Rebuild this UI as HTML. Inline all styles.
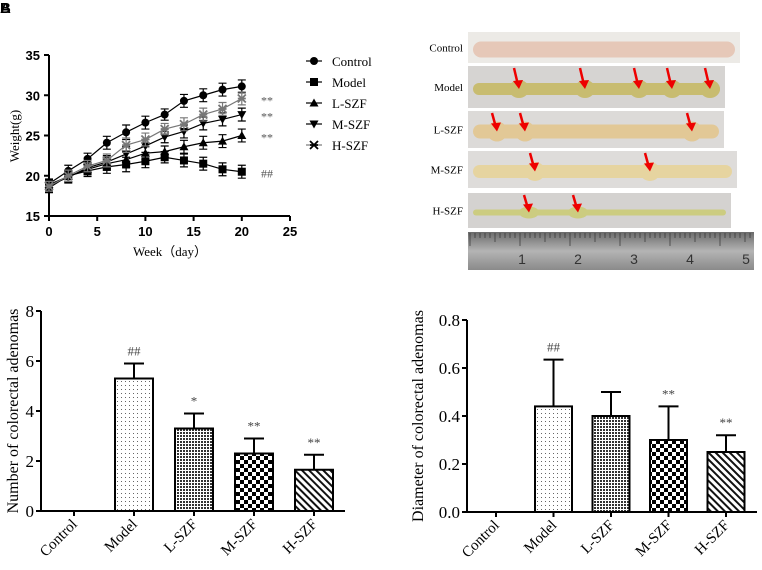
<!DOCTYPE html>
<html><head><meta charset="utf-8"><style>
body{margin:0;background:#fff;width:762px;height:570px;overflow:hidden;position:relative;font-family:"Liberation Serif",serif}
svg{position:absolute;left:0;top:0}
</style></head><body>
<svg width="762" height="570">
<defs>
<pattern id="pDots" width="4" height="4" patternUnits="userSpaceOnUse"><rect width="4" height="4" fill="#fff"/><rect x="1" y="1" width="1" height="1" fill="#666"/></pattern>
<pattern id="pFine" width="3" height="3" patternUnits="userSpaceOnUse"><rect width="3" height="3" fill="#fff"/><rect width="2" height="2" fill="#333"/></pattern>
<pattern id="pCheck" width="8" height="8" patternUnits="userSpaceOnUse"><rect width="8" height="8" fill="#fff"/><rect width="4" height="4" fill="#000"/><rect x="4" y="4" width="4" height="4" fill="#000"/></pattern>
<pattern id="pDiag" width="5" height="5" patternUnits="userSpaceOnUse" patternTransform="rotate(-45)"><rect width="5" height="5" fill="#fff"/><rect width="2" height="5" fill="#111"/></pattern>
<linearGradient id="ruler" x1="0" y1="0" x2="0" y2="1"><stop offset="0" stop-color="#6a6a6a"/><stop offset="0.5" stop-color="#b4b4b4"/><stop offset="1" stop-color="#8a8a8a"/></linearGradient>
</defs>
<text x="0" y="13" font-family="Liberation Sans" font-weight="bold" font-size="15">A</text>
<text x="0" y="13" font-family="Liberation Sans" font-weight="bold" font-size="15">B</text>
<g id="lineChart"></g>
<g id="photo"></g>
<g id="bar1"></g>
<g id="bar2"></g>
</svg>
<script>
const NS="http://www.w3.org/2000/svg";
function mk(p,t,a,txt){const e=document.createElementNS(NS,t);for(const k in a)e.setAttribute(k,a[k]);if(txt!==undefined)e.textContent=txt;p.appendChild(e);return e;}

// ===== Line chart data =====
const weeks=[0,2,4,6,8,10,12,14,16,18,20];
const seriesNames=["Control","Model","L-SZF","M-SZF","H-SZF"];
const controlVals=[19,20.6,22.1,24.1,25.4,26.6,27.6,29.3,30,30.7,31.1];
const modelVals=[18.5,20,20.6,21.1,21.4,21.8,22.3,21.9,21.5,20.8,20.5];
const lowVals=[18.9,19.9,20.8,21.5,22.0,22.8,23.0,23.6,24.1,24.3,25.0];
const midVals=[18.8,19.8,21.0,21.7,22.7,23.7,24.8,25.5,26.5,27.0,27.6];
const highVals=[18.7,20.0,21.2,21.9,23.8,24.5,25.8,26.4,27.6,28.3,29.6];
const lineErr=[0.6,0.7,0.7,0.8,0.9,0.8,0.7,0.8,0.8,0.8,0.8];
const xTicksA=[0,5,10,15,20,25];
const yTicksA=[15,20,25,30,35];
const sigA=[["**",29.6],["**",27.6],["**",25],["##",20.5]];

const LC=document.getElementById('lineChart');
const ax=v=>49+(v/25)*241, ay=v=>216-(v-15)/20*161;
mk(LC,'line',{x1:49,y1:55,x2:49,y2:216,stroke:'#000','stroke-width':2,});
mk(LC,'line',{x1:49,y1:216,x2:290,y2:216,stroke:'#000','stroke-width':2,});
yTicksA.forEach(v=>{mk(LC,'line',{x1:44,y1:ay(v),x2:49,y2:ay(v),stroke:'#000','stroke-width':2});
 const t=mk(LC,'text',{x:40,y:ay(v)+5,'text-anchor':'end','font-family':'Liberation Sans','font-weight':'bold','font-size':13},v);});
xTicksA.forEach(v=>{mk(LC,'line',{x1:ax(v),y1:216,x2:ax(v),y2:221,stroke:'#000','stroke-width':2});
 const t=mk(LC,'text',{x:ax(v),y:236,'text-anchor':'middle','font-family':'Liberation Sans','font-weight':'bold','font-size':13},v);});
mk(LC,'text',{x:170,y:256,'text-anchor':'middle','font-size':13,},'Week（day）');
mk(LC,'text',{transform:'translate(19,136) rotate(-90)','text-anchor':'middle','font-size':13,},'Weight(g)');
const allS=[controlVals,modelVals,lowVals,midVals,highVals];
const cols=['#000','#000','#000','#000','#777'];
function marker(g,i,x,y,c){
 if(i==0)mk(g,'circle',{cx:x,cy:y,r:4,fill:c});
 else if(i==1)mk(g,'rect',{x:x-4,y:y-4,width:8,height:8,fill:c});
 else if(i==2)mk(g,'polygon',{points:`${x},${y-4.5} ${x-4.5},${y+3.5} ${x+4.5},${y+3.5}`,fill:c});
 else if(i==3)mk(g,'polygon',{points:`${x},${y+4.5} ${x-4.5},${y-3.5} ${x+4.5},${y-3.5}`,fill:c});
 else{mk(g,'path',{d:`M${x-4} ${y-4}L${x+4} ${y+4}M${x-4} ${y+4}L${x+4} ${y-4}M${x-4} ${y}L${x+4} ${y}`,stroke:c,'stroke-width':1.8});}
}
allS.forEach((s,i)=>{const g=mk(LC,'g',{});
 mk(g,'polyline',{points:s.map((v,j)=>ax(weeks[j])+','+ay(v)).join(' '),fill:'none',stroke:cols[i],'stroke-width':1.2});
 s.forEach((v,j)=>{const x=ax(weeks[j]),e=lineErr[j];
  mk(g,'path',{d:`M${x} ${ay(v+e)}V${ay(v-e)}M${x-4} ${ay(v+e)}H${x+4}M${x-4} ${ay(v-e)}H${x+4}`,stroke:cols[i],'stroke-width':1.2});
  marker(g,i,x,ay(v),cols[i]);});
});
sigA.forEach(s=>{const t=mk(LC,'text',{x:261,y:ay(s[1])+6,'font-size':12,fill:'#555'},s[0]);});
seriesNames.forEach((n,i)=>{const y=61+i*21;const g=mk(LC,'g',{});
 mk(g,'line',{x1:306,y1:y,x2:322,y2:y,stroke:cols[i],'stroke-width':1.2});marker(g,i,314,y,'#000');
 mk(g,'text',{x:332,y:y+5,'font-size':13},n);});

// ===== Photo panel =====
const PH=document.getElementById('photo');
const rows=[["Control",468,32,740,63,"#eceae6","#e6c8b8",16],["Model",468,66,725,108,"#d6d4d2","#c8bc70",12],["L-SZF",468,111,724,148,"#dcdad8","#e2c896",14],["M-SZF",468,151,737,188,"#dedcda","#e6d4a0",13],["H-SZF",468,193,731,228,"#d4d2d0","#cccc80",6]];
const arrows=[[],[517,583,637,670,708],[495,523,690],[533,648],[527,576]];
rows.forEach((r,i)=>{const g=mk(PH,'g',{});
 mk(g,'rect',{x:r[1],y:r[2],width:r[3]-r[1],height:r[4]-r[2],fill:r[5]});
 const cy=(r[2]+r[4])/2+2,h=r[7];
 mk(g,'rect',{x:r[1]+5,y:cy-h/2,width:r[3]-r[1]-10,height:h,rx:h/2,fill:r[6]});
 arrows[i].forEach(x=>mk(g,'ellipse',{cx:x+2,cy:cy,rx:10,ry:h/2+3,fill:r[6]}));
 mk(g,'text',{x:463,y:(r[2]+r[4])/2+4,'text-anchor':'end','font-size':11},r[0]);
 arrows[i].forEach(x=>{mk(g,'path',{d:`M${x-3} ${r[2]+2}L${x+1} ${cy-4}`,stroke:'#e00','stroke-width':2.5});mk(g,'polygon',{points:`${x-4} ${cy-8},${x+6} ${cy-9},${x+2} ${cy}`,fill:'#e00'});});
});
const rg=mk(PH,'g',{});
mk(rg,'rect',{x:468,y:232,width:286,height:38,fill:'url(#ruler)'});
for(let k=0;k<=56;k++){const x=470+k*5;mk(rg,'line',{x1:x,y1:233,x2:x,y2:k%10==0?246:(k%5==0?242:238),stroke:'#333','stroke-width':0.7});}
[1,2,3,4,5].forEach((n,k)=>mk(rg,'text',{x:522+k*56,y:264,'font-family':'Liberation Sans','font-size':14,fill:'#333','text-anchor':'middle'},n));

// ===== Bar charts =====
const barCats=["Control","Model","L-SZF","M-SZF","H-SZF"];
const countVals=[0,5.3,3.3,2.3,1.65];
const countErr=[0,0.6,0.6,0.6,0.6];
const countSig=["","##","*","**","**"];
const countTicks=[0,2,4,6,8];
const diamVals=[0,0.44,0.40,0.30,0.25];
const diamErr=[0,0.195,0.10,0.14,0.07];
const diamSig=["","##","","**","**"];
const diamTicks=[0,0.2,0.4,0.6,0.8];
const fills=['none','url(#pDots)','url(#pFine)','url(#pCheck)','url(#pDiag)'];

function barChart(G,o){
 const by=v=>o.y0-(v/o.max)*(o.y0-o.yTop);
 mk(G,'line',{x1:o.x0,y1:o.yTop,x2:o.x0,y2:o.y0,stroke:'#000','stroke-width':2,});
 mk(G,'line',{x1:o.x0,y1:o.y0,x2:o.xEnd,y2:o.y0,stroke:'#000','stroke-width':2,});
 o.ticks.forEach(v=>{mk(G,'line',{x1:o.x0-5,y1:by(v),x2:o.x0,y2:by(v),stroke:'#000','stroke-width':2});
  const t=mk(G,'text',{x:o.x0-7,y:by(v)+6,'text-anchor':'end','font-size':17},o.fmt(v));});
 mk(G,'text',{transform:`translate(${o.titleX},${(o.yTop+o.y0)/2}) rotate(-90)`,'text-anchor':'middle','font-size':16,},o.title);
 barCats.forEach((c,i)=>{const cx=o.c0+i*o.step;
  mk(G,'line',{x1:cx,y1:o.y0,x2:cx,y2:o.y0+5,stroke:'#000','stroke-width':2});
  const t=mk(G,'text',{transform:`translate(${cx+4},${o.y0+14}) rotate(-45)`,'text-anchor':'end','font-size':15},c);
  const v=o.vals[i];if(v<=0)return;
  const g=mk(G,'g',{});
  const top=by(v+o.err[i]);
  mk(g,'path',{d:`M${cx} ${by(v)}V${top}M${cx-10} ${top}H${cx+10}`,stroke:'#000','stroke-width':2});
  mk(g,'rect',{x:cx-o.w/2,y:by(v),width:o.w,height:o.y0-by(v),fill:fills[i],stroke:'#000','stroke-width':2});
  if(o.sig[i])mk(g,'text',{x:cx,y:top-8,'text-anchor':'middle','font-size':13,fill:'#444'},o.sig[i]);
 });
}
barChart(document.getElementById('bar1'),{x0:41,y0:511,yTop:311,xEnd:345,max:8,ticks:countTicks,fmt:v=>v,vals:countVals,err:countErr,sig:countSig,c0:74,step:60,w:38,title:'Number of colorectal adenomas',titleX:18});
barChart(document.getElementById('bar2'),{x0:467,y0:512,yTop:320,xEnd:757,max:0.8,ticks:diamTicks,fmt:v=>v.toFixed(1),vals:diamVals,err:diamErr,sig:diamSig,c0:496,step:57.5,w:37,title:'Diameter of colorectal adenomas',titleX:423});
</script>
</body></html>
